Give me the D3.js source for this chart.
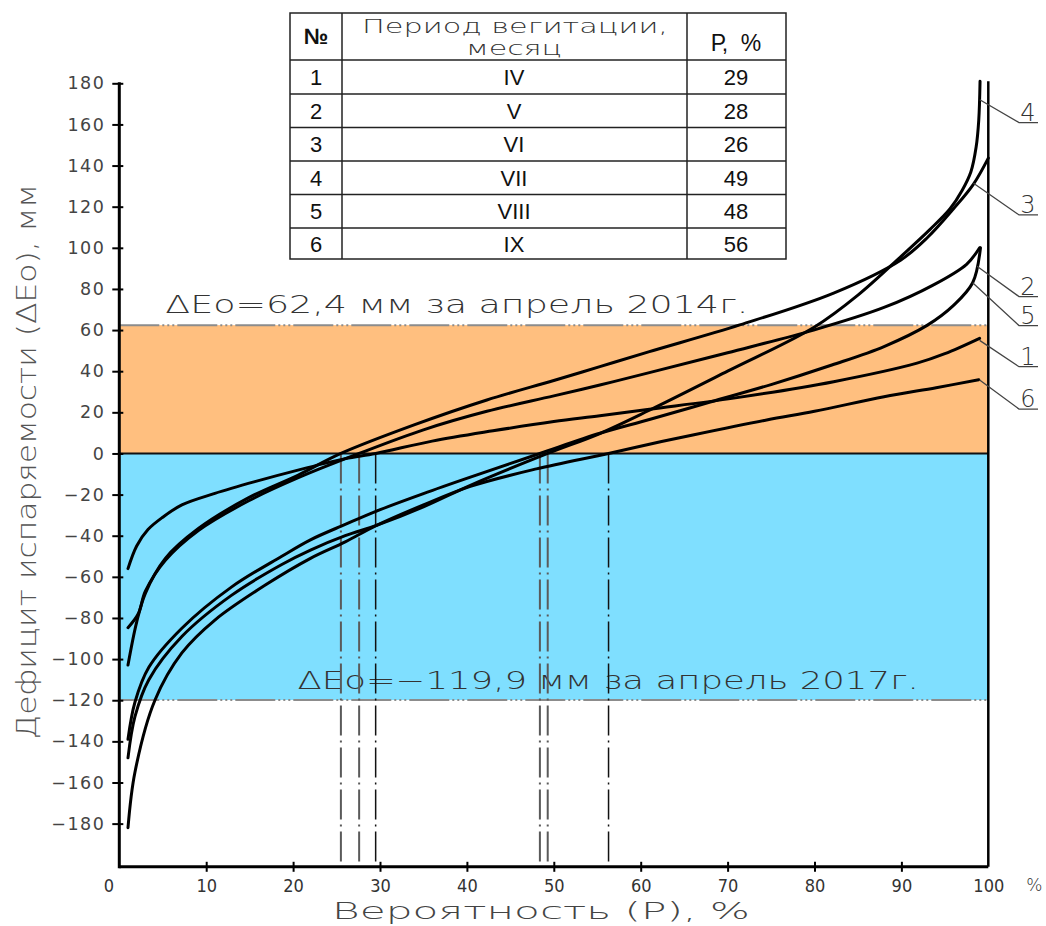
<!DOCTYPE html>
<html><head><meta charset="utf-8">
<script src="https://cdn.jsdelivr.net/npm/d3@7"></script>
<style>body{margin:0;background:#fff}svg{display:block}</style>
</head><body>
<script>
// ---------- data ----------
const curveIds = ["1","2","3","4","5","6"];
const months   = ["IV","V","VI","VII","VIII","IX"];
const probPct  = [29,28,26,49,48,56];
const dropP    = [29.5,27.6,25.5,49.3,48.4,56.3];   // where each curve crosses zero
const dropDark = [true,false,false,false,false,true];

const c1P = [1,2,3.3,5,7.2,11,15.6,21,26,29.5,36,43,50,55.3,61,70.7,82.2,91.8,95,99];
const c1V = [-56,-45,-37,-31,-25,-19.4,-13.7,-7.6,-2.5,0,6,11,15.5,18.3,21.5,26.9,34.9,43.9,48.5,56];
const c2P = [1,2.2,3,5.3,9.1,14.9,20.6,27.6,35,42.3,50,55.3,61,70,79.9,88,93.7,97.5,99];
const c2V = [-84.7,-77.8,-67,-52,-37.5,-23,-11.8,0,11.5,20.5,28,33.3,39.3,49,60,71,82,92,100];
const c3P = [1,2,3,5.3,9.1,14.9,20.6,25.5,34,42.3,50,55.3,61,71.4,82.2,89.9,93,96,98.3,100];
const c3V = [-102.9,-82,-68,-51,-36.5,-21.5,-10.5,0,14,26,35.5,42.2,49.5,62.5,78,94,105,119,131,143.6];
const c4P = [1,1.8,3.4,7.2,12.9,18.7,22,26,29.6,35,40.4,49.3,55.3,61,70,80,85,90,93.3,95.6,97,98,98.6,98.9,99.05];
const c4V = [-148,-128,-110,-89,-69,-54,-47,-40,-35,-26,-15.5,0,9.7,21,40,61.5,77,96,109,119,128,137,149,162,181];
const c5P = [1,1.8,3.4,7.2,12.9,18.7,22,26,29.6,35,40.4,48.4,55.3,61,68,75,82,88,93,96,98.2,99.1];
const c5V = [-139,-121,-104,-85,-65,-50,-42,-34.5,-28,-19.5,-11.5,0,9.8,16.5,25,33.5,43,52,62.4,72,83,100];
const c6P = [1,1.8,4.1,7.2,11,16.8,22,26,29.6,35,40.4,48,56.3,61,66,74.5,80,88,94,98.9];
const c6V = [-182,-155,-120,-97,-81,-64,-51,-43,-35,-25,-16,-7.5,0,4.5,9,16.3,20.5,27.6,32,35.8];
const curvesP = [c1P,c2P,c3P,c4P,c5P,c6P];
const curvesV = [c1V,c2V,c3V,c4V,c5V,c6V];

// leader lines for curve labels: start (P,V) on curve, label level V
const leadStartP = [99,98.7,98.3,99.02,98.2,99];
const leadStartV = [55,91,131.4,172,83,35.7];
const leadLabelV = [42.2,76.3,116,160.9,62.2,21.6];

const xTicks = [0,10,20,30,40,50,60,70,80,90,100];
const yTicks = d3.range(-180,181,20);
const levelHigh = 62.4, levelLow = -119.9;
const textHigh = "ΔEо=62,4 мм за апрель 2014г.";
const textLow  = "ΔEо=−119,9 мм за апрель 2017г.";
const yTitle = "Дефицит испаряемости (ΔEо), мм";
const xTitle = "Вероятность (Р), %";
const tableHead = ["№","Период вегитации,","месяц","Р,  %"];

// ---------- drawing ----------
const W=1046,H=926;
const svg=d3.select("body").append("svg").attr("width",W).attr("height",H);
svg.append("rect").attr("width",W).attr("height",H).attr("fill","#fff");

const x=d3.scaleLinear().domain([0,100]).range([119.3,988.3]);
const y=d3.scaleLinear().domain([-201,180]).range([866.8,83.3]);
const CAD="'DejaVu Sans', sans-serif";

// zones
svg.append("rect").attr("x",x(0)).attr("width",x(100)-x(0))
  .attr("y",y(levelHigh)).attr("height",y(0)-y(levelHigh)).attr("fill","#FFBF7F");
svg.append("rect").attr("x",x(0)).attr("width",x(100)-x(0))
  .attr("y",y(0)).attr("height",y(levelLow)-y(0)).attr("fill","#7FDFFF");

// level lines
[levelHigh,levelLow].forEach(v=>{
  svg.append("line").attr("x1",x(0)).attr("x2",x(100)).attr("y1",y(v)).attr("y2",y(v))
    .attr("stroke","#8c8c8c").attr("stroke-width",2).attr("stroke-dasharray","40,3,2,3,2,3,2,3");
});
svg.append("line").attr("x1",x(0)).attr("x2",x(100)).attr("y1",y(0)).attr("y2",y(0))
  .attr("stroke","#111").attr("stroke-width",2);

// level texts
svg.append("text").attr("x",x(5.3)).attr("y",y(levelHigh)-12).text(textHigh)
  .attr("font-family",CAD).attr("font-size",25).attr("font-weight",200).attr("fill","#333")
  .attr("textLength",x(72.4)-x(5.3)).attr("lengthAdjust","spacingAndGlyphs");
svg.append("text").attr("x",x(20.5)).attr("y",y(levelLow)-11).text(textLow)
  .attr("font-family",CAD).attr("font-size",25).attr("font-weight",200).attr("fill","#333")
  .attr("textLength",x(92)-x(20.5)).attr("lengthAdjust","spacingAndGlyphs");

// drop lines
dropP.forEach((p,i)=>{
  svg.append("line").attr("x1",x(p)).attr("x2",x(p)).attr("y1",y(0)).attr("y2",y(-201))
    .attr("stroke",dropDark[i]?"#111":"#5a5a5a").attr("stroke-width",dropDark[i]?1.5:2)
    .attr("stroke-dasharray","30,5,2,5");
});

// curves
const line=d3.line().x(d=>x(d[0])).y(d=>y(d[1])).curve(d3.curveCatmullRom.alpha(0.5));
curvesP.forEach((ps,i)=>{
  const pts=ps.map((p,j)=>[p,curvesV[i][j]]);
  svg.append("path").attr("d",line(pts)).attr("fill","none")
    .attr("stroke","#000").attr("stroke-width",3).attr("stroke-linecap","round").attr("stroke-linejoin","round");
});

// axes
const yAx=svg.append("g").attr("transform",`translate(${x(0)},0)`)
  .call(d3.axisLeft(y).tickValues(yTicks).tickSize(7).tickPadding(7).tickFormat(d=>d<0?"−"+Math.abs(d):d));
yAx.select(".domain").remove();
yAx.selectAll(".tick line").attr("x1",4).attr("stroke","#000").attr("stroke-width",2);
yAx.selectAll(".tick text").attr("font-family",CAD).attr("font-size",17.5).attr("fill","#444").attr("letter-spacing","1.5px");

const xAx=svg.append("g").attr("transform",`translate(0,${y(-201)})`)
  .call(d3.axisBottom(x).tickValues(xTicks).tickSize(5).tickPadding(7));
xAx.select(".domain").remove();
xAx.selectAll(".tick line").attr("y1",-5).attr("stroke","#000").attr("stroke-width",2)
  .filter(d=>d===0||d===100).remove();
xAx.selectAll(".tick text").attr("font-family","'DejaVu Sans Condensed','DejaVu Sans',sans-serif")
  .attr("font-size",18).attr("font-weight",200).attr("fill","#333")
  .filter(d=>d===0).attr("dx",-11);
svg.append("text").attr("x",x(100)+46).attr("y",y(-201)+24).text("%").attr("text-anchor","middle")
  .attr("font-family",CAD).attr("font-size",17).attr("font-weight",200).attr("fill","#333");

svg.append("line").attr("x1",x(0)).attr("x2",x(0)).attr("y1",y(180)-1).attr("y2",y(-201)+1.5)
  .attr("stroke","#000").attr("stroke-width",3);
svg.append("line").attr("x1",x(0)).attr("x2",x(100)).attr("y1",y(-201)).attr("y2",y(-201))
  .attr("stroke","#000").attr("stroke-width",3);
svg.append("line").attr("x1",x(100)).attr("x2",x(100)).attr("y1",y(180)-2).attr("y2",y(-201))
  .attr("stroke","#000").attr("stroke-width",2.5);

// axis titles
svg.append("text").attr("transform",`translate(36,${y(-4)}) rotate(-90)`).attr("text-anchor","middle")
  .text(yTitle).attr("font-family",CAD).attr("font-size",26).attr("font-weight",200).attr("fill","#555")
  .attr("textLength",555).attr("lengthAdjust","spacingAndGlyphs");
svg.append("text").attr("x",541).attr("y",919).attr("text-anchor","middle")
  .text(xTitle).attr("font-family",CAD).attr("font-size",23).attr("font-weight",200).attr("fill","#444")
  .attr("textLength",418).attr("lengthAdjust","spacingAndGlyphs");

// curve labels + leaders
curveIds.forEach((id,i)=>{
  const sx=x(leadStartP[i]), sy=y(leadStartV[i]), ly=y(leadLabelV[i]);
  const ex=1019;
  svg.append("path").attr("d",`M${sx},${sy}L${ex},${ly}L1038,${ly}`)
    .attr("fill","none").attr("stroke","#444").attr("stroke-width",1.3);
  svg.append("text").attr("x",1028).attr("y",ly-2).attr("text-anchor","middle").text(id)
    .attr("font-family",CAD).attr("font-size",24).attr("font-weight",200).attr("fill","#333");
});

// table
const tx=[290,342,687,786], ty=[13,60,94,127.5,161,194.5,228,259];
const tg=svg.append("g");
tg.append("rect").attr("x",tx[0]).attr("y",ty[0]).attr("width",tx[3]-tx[0]).attr("height",ty[7]-ty[0])
  .attr("fill","#fff").attr("stroke","#222").attr("stroke-width",1.5);
[tx[1],tx[2]].forEach(v=>tg.append("line").attr("x1",v).attr("x2",v).attr("y1",ty[0]).attr("y2",ty[7]).attr("stroke","#222").attr("stroke-width",1.5));
ty.slice(1,7).forEach(v=>tg.append("line").attr("x1",tx[0]).attr("x2",tx[3]).attr("y1",v).attr("y2",v).attr("stroke","#222").attr("stroke-width",1.5));
const AR="'Liberation Sans', Arial, sans-serif";
tg.append("text").attr("x",316).attr("y",44).attr("text-anchor","middle").text(tableHead[0])
  .attr("font-family",AR).attr("font-size",22).attr("font-weight","bold").attr("fill","#111");
tg.append("text").attr("x",515).attr("y",33).attr("text-anchor","middle").text(tableHead[1])
  .attr("font-family",CAD).attr("font-size",19).attr("font-weight",200).attr("fill","#333")
  .attr("textLength",306).attr("lengthAdjust","spacingAndGlyphs");
tg.append("text").attr("x",514).attr("y",55).attr("text-anchor","middle").text(tableHead[2])
  .attr("font-family",CAD).attr("font-size",19).attr("font-weight",200).attr("fill","#333")
  .attr("textLength",96).attr("lengthAdjust","spacingAndGlyphs");
tg.append("text").attr("x",736).attr("y",51).attr("text-anchor","middle").text(tableHead[3])
  .attr("font-family",AR).attr("font-size",23).attr("fill","#111").style("white-space","pre");
curveIds.forEach((id,i)=>{
  const cy=(ty[i+1]+ty[i+2])/2+8;
  tg.append("text").attr("x",316).attr("y",cy).attr("text-anchor","middle").text(id)
    .attr("font-family",AR).attr("font-size",22).attr("fill","#111");
  tg.append("text").attr("x",514).attr("y",cy).attr("text-anchor","middle").text(months[i])
    .attr("font-family",AR).attr("font-size",22).attr("fill","#111");
  tg.append("text").attr("x",736).attr("y",cy).attr("text-anchor","middle").text(probPct[i])
    .attr("font-family",AR).attr("font-size",22).attr("fill","#111");
});
</script>
</body></html>
